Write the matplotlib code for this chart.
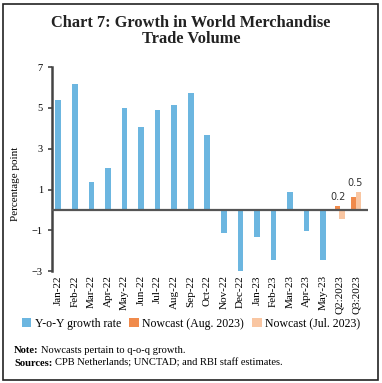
import numpy as np
import matplotlib.pyplot as plt
from matplotlib.patches import Rectangle
from matplotlib.transforms import offset_copy

plt.rcParams['font.family'] = ['Liberation Serif', 'DejaVu Serif']

# data
months = ['Jan-22', 'Feb-22', 'Mar-22', 'Apr-22', 'May-22', 'Jun-22', 'Jul-22',
          'Aug-22', 'Sep-22', 'Oct-22', 'Nov-22', 'Dec-22', 'Jan-23', 'Feb-23',
          'Mar-23', 'Apr-23', 'May-23']
quarters = ['Q2:2023', 'Q3:2023']
yoy = [5.4, 6.17, 1.35, 2.03, 5.0, 4.07, 4.9, 5.14, 5.72, 3.65,
       -1.15, -2.98, -1.32, -2.46, 0.9, -1.02, -2.45]
nowcast_aug = [0.2, 0.64]
nowcast_jul = [-0.44, 0.87]
nowcast_labels = ['0.2', '0.5']

blue = '#6cb6e0'
orange = '#f08a4b'
light_orange = '#f9c6a2'

fig = plt.figure(figsize=(3.82, 3.83), dpi=100)
ax = fig.add_axes([0.136, 0.292, 0.827, 0.533])

x_m = np.arange(len(months))
x_q = np.arange(len(months), len(months) + len(quarters))
ax.bar(x_m, yoy, width=0.34, color=blue, label='Y-o-Y growth rate')
ax.bar(x_q - 0.14, nowcast_aug, width=0.34, color=orange, label='Nowcast (Aug. 2023)')
ax.bar(x_q + 0.14, nowcast_jul, width=0.34, color=light_orange, label='Nowcast (Jul. 2023)')

for xq, a, j, lab in zip(x_q, nowcast_aug, nowcast_jul, nowcast_labels):
    ax.annotate(lab, (xq - 0.1, max(a, j, 0)), xytext=(0, 3), textcoords='offset points',
                ha='center', va='bottom', fontsize=7, family='DejaVu Sans', color='#333333')

ax.axhline(0, color='#555555', lw=1.6, zorder=3)
ax.set_xlim(-0.38, len(months) + len(quarters) - 0.3)
ax.set_ylim(-3, 7)
ax.set_yticks([7, 5, 3, 1, -1, -3])
ax.set_xticks(np.concatenate([x_m, x_q]))
ax.set_xticklabels(months + quarters, rotation=90, fontsize=8)
ax.tick_params(axis='x', length=0, pad=3)
ax.tick_params(axis='y', labelsize=7.5, length=3, width=1.2, color='#444444')
for s in ['top', 'right', 'bottom']:
    ax.spines[s].set_visible(False)
ax.spines['left'].set_linewidth(1.8)
ax.spines['left'].set_color('#444444')
ax.set_ylabel('Percentage point', fontsize=8, labelpad=8)
ax.yaxis.set_label_coords(-0.1, 0.43)

fig.text(0.5, 0.96, 'Chart 7: Growth in World Merchandise\nTrade Volume', ha='center', va='top',
         fontsize=11.8, fontweight='bold', linespacing=1.0, color='#222222')

h, l = ax.get_legend_handles_labels()
fig.legend(h, l, loc='center', bbox_to_anchor=(0.5, 0.155), ncol=3, frameon=False,
           fontsize=8.5, handlelength=0.8, handleheight=0.8, handletextpad=0.3,
           columnspacing=0.7)

renderer = fig.canvas.get_renderer()
for y, head, body in [(0.086, 'Note:', 'Nowcasts pertain to q-o-q growth.'),
                      (0.052, 'Sources:', 'CPB Netherlands; UNCTAD; and RBI staff estimates.')]:
    t = fig.text(0.037, y, head, fontsize=7.6, va='center', fontweight='bold')
    w = t.get_window_extent(renderer).width
    fig.text(0.037, y, body, fontsize=7.6, va='center',
             transform=offset_copy(fig.transFigure, fig=fig, x=w + 2, units='dots'))

fig.patches.append(Rectangle((0.008, 0.008), 0.982, 0.982, transform=fig.transFigure,
                             fill=False, edgecolor='#222222', lw=1.2))
fig.savefig('out.png', dpi=100)
